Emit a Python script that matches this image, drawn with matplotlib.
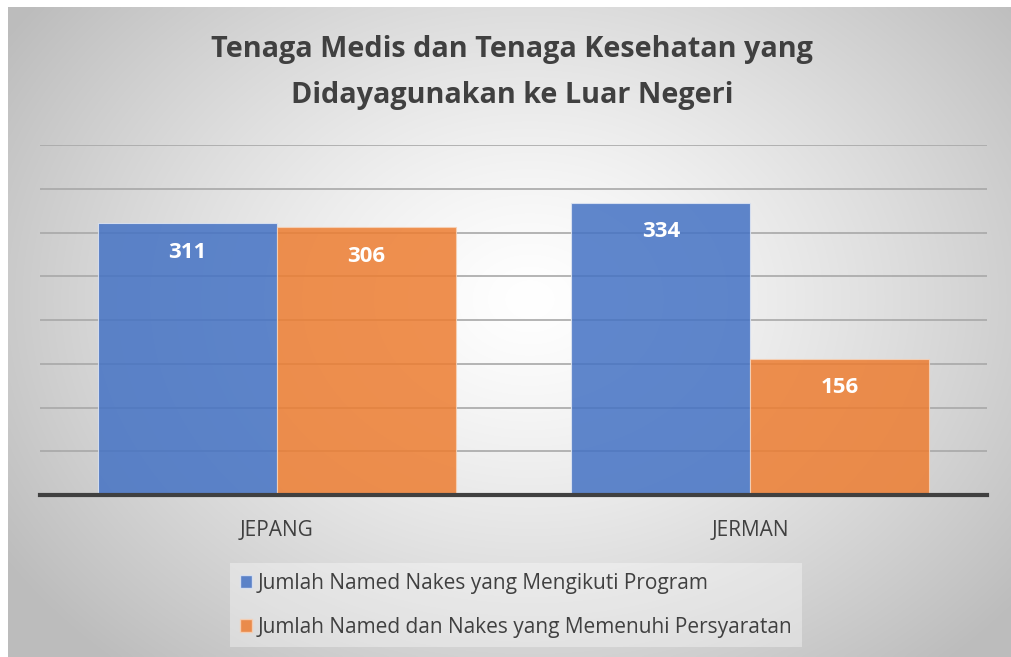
import matplotlib
matplotlib.use("Agg")
import matplotlib.pyplot as plt
import numpy as np
from matplotlib.patches import Patch

categories = ["JEPANG", "JERMAN"]
series_names = ["Jumlah Named Nakes yang Mengikuti Program",
                "Jumlah Named dan Nakes yang Memenuhi Persyaratan"]
ikut_program = [311, 334]
memenuhi_syarat = [306, 156]
y_ticks = [0, 50, 100, 150, 200, 250, 300, 350, 400]

blue = "#4472C4"
orange = "#ED7D31"
text_col = "#404040"

fig = plt.figure(figsize=(10.12, 6.57), dpi=100)

# radial gradient background
bg = fig.add_axes([8 / 1012, 0, 1 - 8 / 1012, 1 - 7 / 657], zorder=-10)
yy, xx = np.mgrid[0:1:300j, 0:1:400j]
r = np.sqrt(((xx - 0.52) / 0.62) ** 2 + ((yy - 0.45) / 0.75) ** 2)
r = np.clip(r, 0, 1)
shade = 1.0 - 0.26 * r ** 1.3
img = np.dstack([shade, shade, shade])
bg.imshow(img, aspect="auto", extent=[0, 1, 0, 1], interpolation="bicubic")
bg.axis("off")

ax = fig.add_axes([40 / 1012, 1 - 495 / 657, 947 / 1012, 350 / 657])
ax.patch.set_alpha(0)

x = np.arange(len(categories))
w = 0.378
b1 = ax.bar(x - w / 2, ikut_program, w, color=blue, alpha=0.85,
            edgecolor="#dfe6f3", linewidth=0.8, zorder=3)
b2 = ax.bar(x + w / 2, memenuhi_syarat, w, color=orange, alpha=0.85,
            edgecolor="#f6d2b8", linewidth=0.8, zorder=3)

for bars in (b1, b2):
    for rect in bars:
        h = rect.get_height()
        ax.annotate(str(h), (rect.get_x() + rect.get_width() / 2, h),
                    xytext=(0, -21), textcoords="offset points",
                    ha="center", va="center", color="white",
                    fontsize=16, fontweight="bold", family="Open Sans", zorder=5)

ax.set_xlim(-0.5, 1.5)
ax.set_ylim(0, 400)
ax.set_yticks(y_ticks)
ax.set_yticklabels([])
ax.tick_params(axis="y", length=0)
ax.yaxis.grid(True, color="#a8a8a8", linewidth=1.2, zorder=1)
ax.set_axisbelow(True)
for s in ["top", "right", "left"]:
    ax.spines[s].set_visible(False)
ax.spines["bottom"].set_color(text_col)
ax.spines["bottom"].set_linewidth(3)
ax.spines["bottom"].set_zorder(6)
ax.set_xticks(x)
ax.set_xticklabels(categories, fontsize=15, color=text_col, family="Open Sans")
ax.tick_params(axis="x", length=0, pad=18)

fig.text(0.506, 1 - 50 / 657, "Tenaga Medis dan Tenaga Kesehatan yang",
         ha="center", va="center", fontsize=20.7, fontweight="bold",
         color=text_col, family="Open Sans")
fig.text(0.506, 1 - 95 / 657, "Didayagunakan ke Luar Negeri",
         ha="center", va="center", fontsize=20.7, fontweight="bold",
         color=text_col, family="Open Sans")

handles = [Patch(facecolor=blue, alpha=0.85, edgecolor="#dfe6f3"),
           Patch(facecolor=orange, alpha=0.85, edgecolor="#f6d2b8")]
leg = fig.legend(handles, series_names, loc="upper left",
                 bbox_to_anchor=(220 / 1012, 1 - 553 / 657),
                 prop={"family": "Open Sans", "size": 15},
                 frameon=True, facecolor="white", framealpha=0.35,
                 edgecolor="none", fancybox=False,
                 handlelength=0.6, handleheight=0.6, handletextpad=0.25,
                 labelspacing=1.1, borderpad=0.45)
for t in leg.get_texts():
    t.set_color(text_col)

fig.savefig("out.png", dpi=100)
